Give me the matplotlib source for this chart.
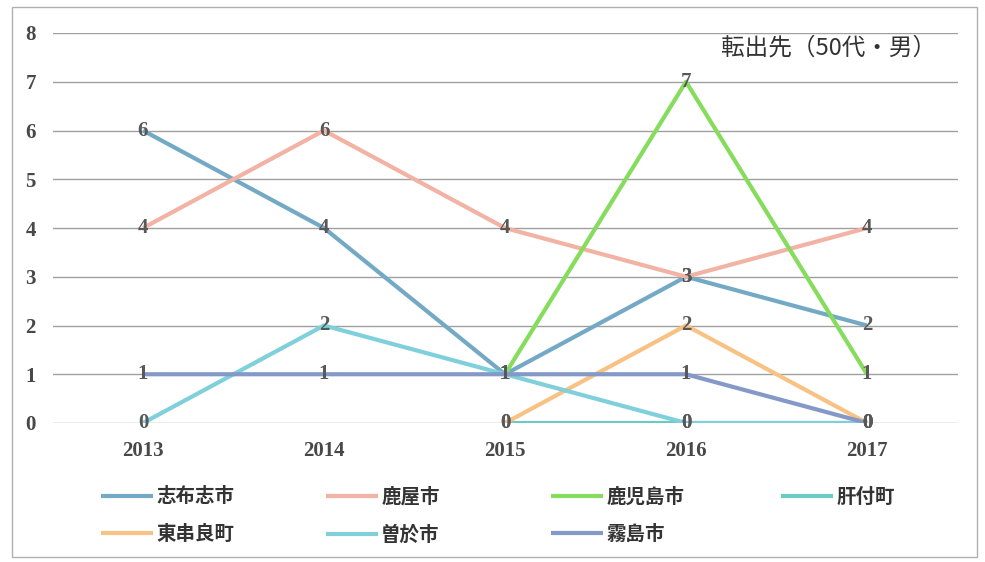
import numpy as np
import matplotlib.pyplot as plt
from matplotlib.patches import Rectangle

plt.rcParams['font.family'] = ['Noto Sans CJK JP', 'DejaVu Sans']

years = ['2013', '2014', '2015', '2016', '2017']
nan = np.nan

# values (nan = no data point)
shibushi = [6, 4, 1, 3, 2]
kanoya = [4, 6, 4, 3, 4]
kagoshima = [nan, nan, 1, 7, 1]
kimotsuki = [nan, nan, 0, 0, 0]
higashikushira = [nan, nan, 0, 2, 0]
soo = [0, 2, 1, 0, 0]
kirishima = [1, 1, 1, 1, 0]

series_names = ['志布志市', '鹿屋市', '鹿児島市', '肝付町', '東串良町', '曽於市', '霧島市']
series_vals = [shibushi, kanoya, kagoshima, kimotsuki, higashikushira, soo, kirishima]
colors = ['#74a9c6', '#f2b2a4', '#86dc5c', '#6ccac4', '#f9c285', '#7fd0da', '#8499c8']

fig = plt.figure(figsize=(9.85, 5.62), dpi=100)
ax = fig.add_axes([52.5 / 985, 1 - 423 / 562, 905 / 985, 390 / 562])

x = np.arange(len(years))
handles = []
for name, vals, c in zip(series_names, series_vals, colors):
    h, = ax.plot(x, vals, color=c, lw=3, solid_capstyle='butt', label=name, zorder=3)
    handles.append(h)
    for xi, v in zip(x, vals):
        if not np.isnan(v):
            ax.text(xi, v, str(int(v)), ha='center', va='center', fontsize=15, weight='bold',
                    family='Liberation Serif', color='#585858', zorder=4)

ax.set_xlim(-0.5, 4.5)
ax.set_ylim(0, 8)
ax.set_yticks(range(0, 9))
ax.set_xticks(x)
ax.set_xticklabels(years)
for lab in ax.get_xticklabels() + ax.get_yticklabels():
    lab.set_family('Liberation Serif')
    lab.set_fontsize(15)
    lab.set_weight('bold')
    lab.set_color('#484848')
ax.tick_params(axis='both', length=0)
ax.tick_params(axis='x', pad=13)
ax.tick_params(axis='y', pad=12)
ax.grid(axis='y', color='#a0a0a0', lw=1, zorder=0)
for s in ax.spines.values():
    s.set_visible(False)

ax.text(0.976, 0.99, '転出先（50代・男）', transform=ax.transAxes, ha='right', va='top',
        fontsize=17, color='#333333')

# legend laid out as 4 columns, 2 rows
col_x = [95, 320, 545, 775]
cols = [[0, 4], [1, 5], [2, 6], [3]]
for cx, idx in zip(col_x, cols):
    fig.legend([handles[i] for i in idx], [series_names[i] for i in idx],
               loc='upper left', bbox_to_anchor=(cx / 985 - 0.012, 1 - 470 / 562),
               frameon=False, handlelength=2.7, handletextpad=0.15, labelspacing=0.95,
               prop={'family': 'Noto Sans CJK JP', 'weight': 'bold', 'size': 14},
               labelcolor='#333333')

fig.patches.append(Rectangle((12 / 985, 5 / 562), 965 / 985, 550 / 562, transform=fig.transFigure,
                             fill=False, ec='#b0b0b0', lw=1))

fig.savefig('out.png', dpi=100)
